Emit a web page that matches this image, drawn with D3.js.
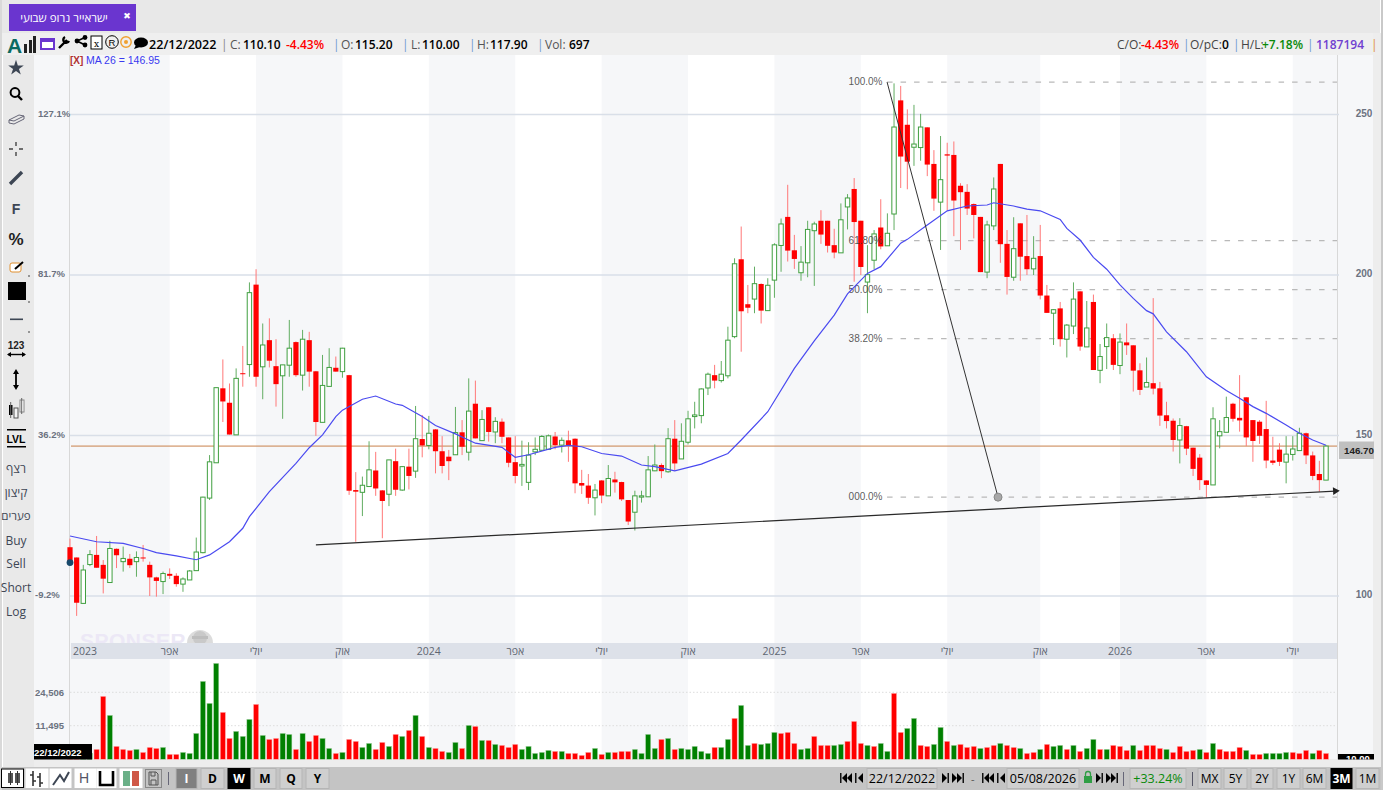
<!DOCTYPE html>
<html><head><meta charset="utf-8">
<style>html,body{margin:0;padding:0;background:#fff;overflow:hidden}svg{display:block}</style>
<script src="https://cdn.jsdelivr.net/npm/d3@7/dist/d3.min.js"></script>
</head><body><svg id="c" width="1389" height="790"></svg>
<script>
const barOpen=[115.2,112.0,97.7,109.8,112.8,109.7,104.2,114.7,110.7,111.6,110.7,112.0,109.7,105.8,104.5,106.9,106.3,103.7,105.0,107.9,113.5,130.5,141.5,164.7,160.2,150.2,169.4,172.1,197.0,171.4,179.7,171.6,168.6,171.9,179.1,168.8,179.7,170.0,154.1,165.3,171.1,169.9,168.8,133.0,132.3,134.1,139.1,132.9,131.7,142.0,133.0,140.3,138.9,148.9,146.9,151.9,145.1,143.4,144.0,151.0,144.8,159.9,148.4,158.8,151.1,154.3,149.4,141.7,140.5,135.4,144.9,145.4,145.7,149.7,147.0,148.5,149.0,135.2,134.4,130.6,136.0,131.2,136.3,135.5,129.9,126.1,130.8,130.9,139.0,140.8,138.7,149.0,142.7,147.9,155.9,156.2,164.8,168.8,167.1,168.6,180.8,204.9,190.9,192.5,197.2,188.9,198.4,209.2,218.1,207.7,200.7,203.8,213.8,216.9,216.9,209.3,206.9,221.2,226.8,216.9,197.8,204.6,214.8,209.1,219.0,254.4,246.8,239.8,239.7,246.0,234.6,222.7,237.6,237.4,227.8,225.9,222.1,218.1,200.9,215.3,234.6,209.7,199.3,216.1,205.9,201.9,205.9,193.6,188.1,189.6,180.0,184.1,194.9,177.6,191.6,170.3,177.7,180.3,171.8,179.0,178.1,170.3,165.1,166.3,164.7,156.3,154.6,148.6,152.9,146.2,143.1,136.0,134.6,149.9,151.0,159.9,155.5,161.9,154.8,154.3,152.0,142.2,145.6,141.7,144.1,145.3,150.7,143.8,138.0,136.1];
const barHigh=[117.9,112.0,109.7,114.3,118.7,111.2,117.2,114.8,115.4,113.1,113.9,115.9,110.7,106.0,107.6,108.6,107.1,105.8,108.1,118.2,130.9,143.9,164.9,173.7,166.2,170.9,177.9,197.7,201.8,184.9,186.5,180.0,172.0,186.0,179.3,182.9,182.3,170.1,175.1,177.2,174.6,177.3,168.9,138.6,137.2,148.2,144.9,133.0,142.4,145.9,140.5,145.9,159.2,156.4,156.1,152.0,149.8,145.5,158.9,154.8,167.8,167.1,157.9,158.8,155.7,155.3,149.4,149.8,148.4,147.9,149.4,150.1,150.3,151.1,149.4,151.5,149.1,139.3,138.0,134.9,136.1,140.8,138.7,135.6,129.9,132.8,132.8,143.6,147.2,141.3,152.3,154.8,153.8,157.7,160.5,164.7,169.6,172.0,173.2,183.9,205.2,215.1,196.9,202.6,197.4,199.0,209.9,217.6,228.1,212.5,209.0,216.9,216.6,220.2,216.9,214.4,222.3,225.2,230.2,216.9,209.3,214.0,223.6,219.2,259.7,258.9,251.6,253.0,250.2,246.0,238.9,243.3,241.2,241.6,228.6,228.3,222.3,218.1,216.9,230.4,234.6,214.0,218.0,216.1,218.7,212.1,215.6,196.9,189.3,191.6,184.7,197.7,195.0,191.9,193.9,178.5,184.9,181.6,181.8,184.9,178.1,172.5,174.3,192.8,166.7,160.5,155.3,155.4,153.0,146.2,144.2,136.1,158.8,154.8,162.1,160.2,168.8,161.9,154.8,154.8,160.8,149.6,147.6,149.8,149.8,152.4,150.9,145.0,142.1,147.0];
const barLow=[110.0,93.8,97.7,109.3,108.8,100.8,104.2,108.7,107.6,108.7,106.0,110.7,100.0,99.8,100.6,105.3,102.9,101.3,105.0,107.9,113.3,129.9,141.5,154.2,150.3,150.2,165.2,168.3,165.2,161.3,171.2,159.0,155.2,168.3,168.3,164.0,165.2,149.9,154.1,165.3,169.9,168.0,131.5,116.9,124.9,134.1,131.2,118.0,128.0,131.2,132.8,133.2,136.8,143.2,145.7,138.2,138.2,136.1,144.0,143.9,142.2,149.1,148.4,148.1,147.6,147.6,140.1,135.1,134.3,133.0,143.9,145.2,145.5,145.7,144.7,141.8,132.0,131.8,128.7,125.1,128.9,131.2,132.2,129.6,122.1,120.4,129.1,130.9,138.9,136.7,138.4,139.0,142.7,147.2,152.2,153.8,162.6,164.7,166.5,167.8,180.3,176.1,188.1,188.1,184.9,188.9,192.9,201.0,204.2,201.9,198.2,199.3,196.6,209.7,207.0,205.2,206.9,214.2,197.9,200.0,188.1,201.8,208.0,209.1,214.0,227.1,226.7,234.0,235.6,230.8,220.0,207.8,220.2,212.1,207.8,218.7,211.4,200.9,199.0,214.0,203.8,193.9,198.2,198.2,200.0,200.0,192.4,188.2,178.2,177.7,174.3,181.6,176.4,177.6,170.4,166.3,170.7,170.4,169.1,175.1,163.7,162.6,165.1,162.8,153.0,152.2,145.0,141.3,143.9,137.4,133.0,130.7,134.6,146.0,151.0,154.3,151.2,146.7,141.8,147.4,139.8,140.8,140.5,135.1,142.2,145.3,141.1,136.1,132.5,136.1];
const barClose=[110.1,97.9,108.1,112.9,108.8,105.4,114.8,112.7,111.7,109.6,112.0,111.9,105.8,104.7,107.0,106.3,103.7,105.3,107.8,113.7,130.8,141.8,164.9,160.6,150.3,167.8,169.3,194.5,168.3,178.2,173.3,166.0,172.0,177.2,168.8,180.0,169.9,154.2,165.6,171.2,169.9,177.2,132.8,132.5,134.5,139.3,133.5,129.6,142.4,133.1,140.3,137.4,149.0,146.9,150.7,145.1,140.5,142.0,150.9,146.5,157.6,149.1,155.0,151.1,154.4,149.6,141.5,137.4,141.0,143.9,145.7,149.7,149.9,147.0,148.5,147.0,135.1,134.4,130.6,133.0,131.3,136.6,135.4,130.1,123.2,131.2,131.2,139.3,140.8,138.9,149.0,141.3,148.2,155.2,156.4,164.5,169.1,167.1,169.1,179.7,203.5,188.7,189.8,197.3,188.9,196.8,209.4,215.9,207.6,205.0,204.0,214.2,215.9,212.6,209.1,207.0,217.2,224.0,216.5,202.5,200.1,212.8,208.9,213.0,246.1,236.9,235.3,240.8,246.1,234.4,223.8,229.7,237.2,223.2,225.8,220.7,218.7,200.9,215.6,226.8,209.6,199.4,208.2,205.7,201.8,205.2,193.6,188.2,189.2,180.0,184.4,192.5,177.7,183.5,170.4,174.6,180.5,172.0,179.1,178.1,170.2,164.2,166.5,164.6,156.2,154.5,148.6,153.1,145.9,139.6,136.1,134.6,155.2,151.2,155.6,155.2,154.7,149.4,148.3,149.9,142.2,141.5,141.8,144.2,145.8,150.7,143.8,137.4,136.1,146.7];
const volumes=[697,2400,2700,2100,3420,22950,15550,4450,3420,3080,3420,2390,4100,3760,4100,1710,1710,2390,2050,8890,28790,20220,35800,16720,7180,9580,7870,13990,19830,8210,6840,7180,8890,8550,3420,8890,6160,8210,7180,3760,2050,2390,6840,6160,4100,5470,3420,5810,4450,8550,7870,9920,15550,7870,4100,3760,2740,2390,5810,3760,11650,11290,6500,6500,5130,4790,4100,5130,3420,4450,2050,2390,3080,2740,2740,2050,2050,1370,2390,3760,1710,2390,2390,2740,2740,3420,2050,8550,3760,6840,7180,3420,3760,3420,4450,2740,2050,4100,4100,6840,14380,19440,4790,5470,5130,5470,9230,8890,9230,5470,3420,3760,7870,4790,4790,4790,5130,6160,13200,5470,4790,4450,5470,2740,24120,9230,10600,14380,4790,4450,5130,10950,6160,4790,5130,4100,4450,3760,4100,4790,5470,4790,4100,3760,2050,2390,3420,5130,4450,4790,3420,4790,2740,3760,6840,3420,3420,4790,4450,3080,4790,3080,4790,4790,3760,3420,2390,4450,2740,3080,3420,2390,5470,3420,2740,2740,4100,3080,1710,1710,2050,2050,2050,2390,2390,2050,3080,2050,3080,2050];
const volumeDirection="rrggrrgrrrgrrrgrrggggggrrgggrgrrggrgrrggrgrrggrrgrgrgrgrrggrgrgrgrrrgggggrgrrrrgrgrrrggggrgrggggg".concat("rggrggrgggrrrggrrrggrrrgrggrrggrrggrgrrrgrrgrrgrrgrggrgrggrgrrrgrrrrgrrrrgrgrrrrgrrgggg","rrrg").split("");
const maBars=[1,5,9,12,14,17,20,22,25,27,28,31,35,37,39,41,42,45,47,50,51,54,56,59,62,66,68,70,74,76,78,81,84,87,89,92,96,100,102,106,110,113,116,118,121,123,126,127,130,133,136,139,140,143,145,147,150,151,153,155,157,159,161,163,164,166,169,172,175,177,179,181,184,186,188,190];
const maValues=[118.7,116.9,116.4,114.8,113.5,112.5,111.3,112.8,116.9,121.1,124.7,132.5,141.3,146.2,150.2,155.9,157.9,161.3,162.3,159.8,159.4,155.9,153.1,150.5,147.6,146.3,143.2,144.0,146.3,146.9,146.5,144.4,143.6,140.8,140.3,139.0,141.1,144.4,148.6,157.4,170.9,179.5,187.5,194.1,200.5,202.6,209.9,211.1,215.6,220.0,221.5,221.8,222.5,221.5,220.5,220.0,217.3,214.5,210.9,205.5,201.8,196.9,192.7,188.9,187.9,182.3,176.1,168.3,164.0,161.6,159.0,156.9,153.3,150.7,148.6,146.95];
const quarterBars=[0,15,28,41,54,67,80,93,106,119,132,146,158,171,184];
const quarterLabels=["2023","אפר","יולי","אוק","2024","אפר","יולי","אוק","2025","אפר","יולי","אוק","2026","אפר","יולי"];
const priceTicks=[100,150,200,250];
const percentTicks=["-9.2%","36.2%","81.7%","127.1%"];
const volumeTicks=[11495,24506];
const fibLevels=[1,0.618,0.5,0.382,0];
const fibLabels=["100.0%","61.80%","50.00%","38.20%","000.0%"];
const fibHigh=260.1, fibLow=130.8, lastPrice=146.7;
const fibBars=[122.95,139.65];
const trendBars=[37,190.4], trendPrices=[115.9,132.7];
const headerStats=[["22/12/2022",149,"#000",1],["|",221,"#888",0],["C:",230,"#555",0],["110.10",243,"#000",1],["-4.43%",286,"#ff0000",1],["|",333,"#6a9ad0",0],["O:",341,"#555",0],["115.20",355,"#000",1],["|",402,"#6a9ad0",0],["L:",411,"#555",0],["110.00",422,"#000",1],["|",469,"#6a9ad0",0],["H:",477,"#555",0],["117.90",490,"#000",1],["|",537,"#6a9ad0",0],["Vol:",545,"#555",0],["697",569,"#000",1],
["C/O:",1117,"#444",0],["-4.43%",1141,"#ff0000",1],["|",1183,"#6a9ad0",0],["O/pC:",1190,"#444",0],["0",1222,"#000",1],["|",1233,"#6a9ad0",0],["H/L:",1241,"#444",0],["+7.18%",1262,"#0a8a0a",1],["|",1307,"#6a9ad0",0],["1187194",1316,"#7040d0",1],["|",1371,"#e09030",0]];
const sideLabels=[["רצף",469],["קיצון",493],["פערים",516],["Buy",541],["Sell",564],["Short",588],["Log",612]];
const timeButtons=[["I",176,197,"#808080","#fff"],["D",201,224,"#cfcfcf","#000"],["W",228,250,"#000","#fff"],["M",254,276,"#cfcfcf","#000"],["Q",280,302,"#cfcfcf","#000"],["Y",306,329,"#cfcfcf","#000"]];
const rangeButtons=[["MX",1198,1221,"#cfcfcf","#000"],["5Y",1224,1247,"#cfcfcf","#000"],["2Y",1251,1273,"#cfcfcf","#000"],["1Y",1277,1300,"#cfcfcf","#000"],["6M",1303,1326,"#cfcfcf","#000"],["3M",1331,1352,"#000","#fff"],["1M",1356,1379,"#cfcfcf","#000"]];

const svg=d3.select("#c");
const OS="'Open Sans',sans-serif", LS="'Liberation Sans',Arial,sans-serif";
const PL=70,PR=1337,PT=55,PB=643,BAND=659,VB=759.3;
const x=d3.scaleLinear().domain([0,189]).range([70,1326]);
const y=d3.scaleLinear().domain([100,250]).range([596,114.5]);
const yV=d3.scaleLinear().domain([0,volumeTicks[0],volumeTicks[1]]).range([VB,725.7,692.3]);
const bars=d3.range(barOpen.length).map(i=>({i,o:barOpen[i],h:barHigh[i],l:barLow[i],c:barClose[i],v:volumes[i],d:volumeDirection[i]}));
const R=(g,a,b,w,h,f,s)=>g.append("rect").attr("x",a).attr("y",b).attr("width",w).attr("height",h).attr("fill",f).attr("stroke",s||"none");
const T=(g,t,a,b,o={})=>g.append("text").text(t).attr("x",a).attr("y",b).attr("font-family",o.ff||OS).attr("font-size",o.fs||12).attr("font-weight",o.fw||400).attr("fill",o.f||"#000").attr("text-anchor",o.a||"start").attr("dominant-baseline","alphabetic");

// chrome
const ch=svg.append("g");
R(ch,0,0,1389,790,"#fff");
R(ch,2,0,1378,33,"#e8e8e8");
R(ch,9,4,127,27,"#6a35cf");
T(ch,"ישראייר נרופ שבועי",64,22,{f:"#fff",fs:11.5,a:"middle"}).attr("direction","rtl");
T(ch,"✖",127,19,{f:"#fff",fs:9,a:"middle",ff:"'DejaVu Sans'"});
R(ch,2,33,1378,22,"#efefef");
R(ch,3,55,31,712,"#e9e9e9");
R(ch,34,55,1339,704,"#f6f7f9");
R(ch,1373,33,8,734,"#ededed");
R(ch,1381,0,2,790,"#c9c9c9");
R(ch,34,759,1347,8,"#ededed");
R(ch,0,767,1381,23,"#c4c4c4");
R(ch,0,0,2,790,"#d9d9d9");

// quarter bands
const edges=quarterBars.slice(1).map(b=>x(b)).concat([PR]);
edges.forEach((e,k)=>{ if(k%2===0 && k<edges.length-1) R(ch,e,PT,edges[k+1]-e,VB-PT,"#fff"); });

// watermark
const wm=svg.append("g");
T(wm,"SPONSER",80,648,{ff:LS,fs:21,fw:700,f:"#ece8f6"}).attr("letter-spacing",0.5);
wm.append("circle").attr("cx",200).attr("cy",643).attr("r",13).attr("fill","#dcdcdc");
wm.append("circle").attr("cx",200).attr("cy",638).attr("r",7).attr("fill","#c9c9c9");
R(wm,192,636,16,3,"#bdbdbd");

// date band
R(svg,71,PB,PR-71,BAND-PB,"#dde1e9");
svg.append("g").selectAll("text").data(quarterBars).join("text")
 .attr("x",(b,i)=>i===0?73:x(b)).attr("y",655).attr("text-anchor",(b,i)=>i===0?"start":"middle")
 .attr("font-family",OS).attr("font-size",10.5).attr("fill","#5f6672").text((b,i)=>quarterLabels[i]);

// axis border
svg.append("line").attr("x1",69.5).attr("x2",69.5).attr("y1",PT).attr("y2",VB).attr("stroke","#d8d8d8");
svg.append("line").attr("x1",PR+.5).attr("x2",PR+.5).attr("y1",PT).attr("y2",VB).attr("stroke","#d8d8d8");

// price grid + axes
const grid=svg.append("g");
grid.selectAll("line").data(priceTicks).join("line").attr("x1",PL).attr("x2",PR+2).attr("y1",d=>y(d)).attr("y2",d=>y(d)).attr("stroke","#d9dfe8").attr("stroke-width",1.5);
svg.append("g").selectAll("text").data(priceTicks).join("text").attr("x",1364).attr("y",d=>y(d)+2).attr("text-anchor","middle").attr("font-family",LS).attr("font-weight",700).attr("font-size",10).attr("fill","#6b7280").text(d=>d);
svg.append("g").selectAll("text").data(priceTicks).join("text").attr("x",(d,i)=>i===0?35:38).attr("y",d=>y(d)+2).attr("text-anchor","start").attr("font-family",LS).attr("font-weight",700).attr("font-size",9.5).attr("fill","#6b7280").text((d,i)=>percentTicks[i]);

// volume grid
svg.append("g").selectAll("line").data(volumeTicks).join("line").attr("x1",PL).attr("x2",PR).attr("y1",d=>yV(d)).attr("y2",d=>yV(d)).attr("stroke","#ddd").attr("stroke-dasharray","1.5 2");
svg.append("g").selectAll("text").data(volumeTicks).join("text").attr("x",64).attr("y",d=>yV(d)+3.5).attr("text-anchor","end").attr("font-family",LS).attr("font-weight",700).attr("font-size",9.5).attr("fill","#6b7280").text(d3.format(","));

// last price line
svg.append("line").attr("x1",71).attr("x2",PR).attr("y1",y(lastPrice)).attr("y2",y(lastPrice)).attr("stroke","#c8804a").attr("stroke-width",1);

// fib lines
const fy=l=>y(fibLow+(fibHigh-fibLow)*l);
const fib=svg.append("g");
fib.selectAll("line").data(fibLevels).join("line").attr("x1",x(fibBars[0])).attr("x2",PR).attr("y1",fy).attr("y2",fy).attr("stroke","#b9b9b9").attr("stroke-width",1.4).attr("stroke-dasharray","5.5 8");
const fibText=bars.length&&fibLevels;

// candles
const wick=d=>d.c>=d.o?"#62ad62":"#ff7878";
const cg=svg.append("g");
cg.selectAll("line").data(bars).join("line").attr("x1",d=>x(d.i)).attr("x2",d=>x(d.i)).attr("y1",d=>y(d.h)).attr("y2",d=>y(d.l)).attr("stroke",wick).attr("stroke-width",1);
cg.selectAll("rect").data(bars).join("rect").attr("x",d=>x(d.i)-(d.c>=d.o?2.2:2.6)).attr("width",d=>d.c>=d.o?4.4:5.2)
 .attr("y",d=>y(Math.max(d.o,d.c))).attr("height",d=>Math.max(y(Math.min(d.o,d.c))-y(Math.max(d.o,d.c)),1))
 .attr("fill",d=>d.c>=d.o?"#fff":"#ff0000").attr("stroke",d=>d.c>=d.o?"#3f9f3f":"none").attr("stroke-width",1);

// fib labels above candles, as in the reference
svg.append("g").selectAll("text").data(fibText).join("text").attr("x",882.5).attr("y",d=>fy(d)+3).attr("text-anchor","end").attr("font-family",LS).attr("font-size",10).attr("fill","#3a3a3a").attr("fill-opacity",.85).text((d,i)=>fibLabels[i]);

// MA
svg.append("path").attr("d",d3.line().x((d,k)=>x(maBars[k]-1)).y(d=>y(d))(maValues)).attr("fill","none").attr("stroke","#4a4af0").attr("stroke-width",1.2);

// drawings
svg.append("line").attr("x1",x(fibBars[0])).attr("y1",y(fibHigh)).attr("x2",x(fibBars[1])).attr("y2",y(fibLow)).attr("stroke","#333").attr("stroke-width",1);
svg.append("circle").attr("cx",x(fibBars[1])).attr("cy",y(fibLow)).attr("r",4).attr("fill","#a8a8a8").attr("stroke","#888");
const tx=trendBars.map(x), ty=trendPrices.map(y);
svg.append("line").attr("x1",tx[0]).attr("y1",ty[0]).attr("x2",tx[1]).attr("y2",ty[1]).attr("stroke","#2a2a2a").attr("stroke-width",1.2);
svg.append("path").attr("d",d3.symbol(d3.symbolTriangle,26)()).attr("transform",`translate(${tx[1]},${ty[1]}) rotate(87)`).attr("fill","#222");
svg.append("circle").attr("cx",x(0)).attr("cy",y(barOpen[0]-4.8)).attr("r",3.4).attr("fill","#17496b");

// volume
svg.append("g").selectAll("rect").data(bars).join("rect").attr("x",d=>x(d.i)-2.6).attr("width",5.2).attr("y",d=>yV(d.v)).attr("height",d=>VB-yV(d.v)).attr("fill",d=>d.d==="g"?"#008000":"#ff0000").attr("stroke",d=>d.d==="g"?"#b8dcb8":"#ffc0c0").attr("stroke-width",.5);

// price tag & legend
R(svg,1339,441.5,35,17.5,"#c0c0c0");
T(svg,"146.70",1359,454,{a:"middle",fs:9.8,fw:700,ff:LS,f:"#222"});
T(svg,"[X]",70,64,{ff:LS,fs:10,fw:700,f:"#b03030"});
T(svg,"MA 26 = 146.95",86,64,{ff:LS,fs:10.5,f:"#3a3af0"});

// date flags
R(svg,34,744,58,15.5,"#000");
T(svg,"22/12/2022",34,756,{f:"#fff",fs:9.5,fw:700,ff:LS});
const cp=svg.append("clipPath").attr("id","cpr"); cp.append("rect").attr("x",1338).attr("y",754).attr("width",36).attr("height",5.5);
const fr=svg.append("g").attr("clip-path","url(#cpr)");
R(fr,1338,754,36,6,"#000");
T(fr,"10.00",1346,762,{f:"#fff",fs:9.5,fw:700,ff:LS});

// header stats
const hs=svg.append("g");
headerStats.forEach(([t,a,f,b])=>{T(hs,t,a,48.5,{fs:t.length===10?12.6:12,fw:b?600:400,f});});

// header icons
const ic=svg.append("g");
T(ic,"A",7,53,{ff:LS,fs:21,fw:700,f:"#0c6a60"});
[[24,44],[29,40],[33,36]].forEach(([a,t])=>R(ic,a,t,3,53-t,"#222"));
ic.append("rect").attr("x",41).attr("y",39).attr("width",13).attr("height",10).attr("fill","#fff").attr("stroke","#6a35cf").attr("stroke-width",2);
R(ic,41,39,13,3,"#6a35cf");
ic.append("path").attr("d","M59 48 L67 40 M65 37 a3 3 0 1 0 4 4").attr("stroke","#000").attr("stroke-width",2.4).attr("fill","none");
ic.append("path").attr("d","M77 41 L85 37.5 M77 41 L85 45").attr("stroke","#000").attr("stroke-width",1.6);
[[77,41],[85,37.5],[85,45]].forEach(([a,b])=>ic.append("circle").attr("cx",a).attr("cy",b).attr("r",2.4));
ic.append("rect").attr("x",91).attr("y",36).attr("width",11).attr("height",13).attr("fill","#fff").attr("stroke","#000");
T(ic,"x",96.5,47,{a:"middle",fs:9,ff:"'DejaVu Serif'"});
ic.append("circle").attr("cx",112).attr("cy",42).attr("r",6.3).attr("fill","none").attr("stroke","#000");
T(ic,"R",112,46,{a:"middle",fs:9.5,ff:LS});
ic.append("circle").attr("cx",126).attr("cy",42).attr("r",5.2).attr("fill","none").attr("stroke","#f0a030").attr("stroke-width",1.4);
ic.append("circle").attr("cx",126).attr("cy",42).attr("r",2).attr("fill","#f0a030");
ic.append("ellipse").attr("cx",141).attr("cy",42.5).attr("rx",7).attr("ry",5).attr("fill","#000");
ic.append("path").attr("d","M136 45 L134 49 L140 47Z");

// left tools
const lt=svg.append("g");
const cx=16;
lt.append("path").attr("d",d3.symbol(d3.symbolStar,75)()).attr("transform",`translate(${cx},68)`).attr("fill","#3d4654");
lt.append("circle").attr("cx",15).attr("cy",92.5).attr("r",4.4).attr("fill","none").attr("stroke","#000").attr("stroke-width",2);
lt.append("line").attr("x1",18).attr("y1",96).attr("x2",22).attr("y2",100).attr("stroke","#000").attr("stroke-width",2.4);
lt.append("path").attr("d","M9 120 L19 115 L24 116 L24 119 L14 124 L9 123Z M9 120 L14 121 L24 116").attr("fill","none").attr("stroke","#667");
lt.append("path").attr("d","M16 142 V146 M16 152 V156 M9 149 H13 M19 149 H23").attr("stroke","#444").attr("stroke-width",1.4);
lt.append("line").attr("x1",10).attr("y1",184).attr("x2",22).attr("y2",172).attr("stroke","#3d4654").attr("stroke-width",3.4);
T(lt,"F",16,214,{a:"middle",fs:14,fw:700,f:"#3d4654",ff:LS});
T(lt,"%",16,245,{a:"middle",fs:17,fw:700,f:"#222",ff:LS});
lt.append("rect").attr("x",10).attr("y",263).attr("width",11).attr("height",9).attr("rx",2).attr("fill","#fff").attr("stroke","#e09030");
lt.append("line").attr("x1",15).attr("y1",269).attr("x2",23).attr("y2",262).attr("stroke","#000").attr("stroke-width",2);
R(lt,8,282,18,18,"#000");
R(lt,10,318.5,13,1.6,"#3d4654");
T(lt,"123",16,349,{a:"middle",fs:10,fw:700,ff:LS,f:"#222"});
lt.append("path").attr("d","M8 354.5 H25").attr("stroke","#000").attr("stroke-width",1.4);
lt.append("path").attr("d","M7 354.5 L11 352 V357Z M26 354.5 L22 352 V357Z");
lt.append("path").attr("d","M16 371 V388").attr("stroke","#000").attr("stroke-width",1.8);
lt.append("path").attr("d","M16 369 L13 374 H19Z M16 390 L13 385 H19Z");
R(lt,9,405,3.5,10,"#000"); R(lt,14,408,4,10,"#f4f4f4","#555");
R(lt,20,400,4,12,"#fff","#888");
lt.append("path").attr("d","M10.7 402 V418 M21.7 398 V414").attr("stroke","#666");
R(lt,7,429,19,1.5,"#000"); R(lt,7,446,19,1.5,"#000");
T(lt,"LVL",16,443,{a:"middle",fs:10.5,fw:700,ff:LS});
sideLabels.forEach(([t,b])=>T(lt,t,16,b+4,{a:"middle",fs:t==="פערים"?11.5:12,f:"#3d4654"}));
lt.append("circle").attr("cx",29).attr("cy",276).attr("r",.7); lt.append("circle").attr("cx",29).attr("cy",302).attr("r",.7); lt.append("circle").attr("cx",29).attr("cy",332).attr("r",.7);

// bottom toolbar
const bt=svg.append("g");
function btn(a,b,w,h,f,s){return bt.append("rect").attr("x",a).attr("y",b).attr("width",w).attr("height",h).attr("fill",f).attr("stroke",s||"#b5b5b5");}
btn(1.5,769,22,18.5,"#fff","#000");
[[8,773,5,10],[15,773,5,10]].forEach(([a,b,w,h])=>{R(bt,a,b,w,h,"#555");});
bt.append("path").attr("d","M10.5 771 V785 M17.5 771 V785").attr("stroke","#333");
btn(26,769,22,18.5,"#fff","#fff");
bt.append("path").attr("d","M33 771 V786 M40 773 V787 M33 775 H30 M33 781 H36 M40 777 H37 M40 783 H43").attr("stroke","#333").attr("stroke-width",1.6).attr("fill","none");
btn(50,769,21,18.5,"#fff","#fff");
bt.append("path").attr("d","M53 785 L60 775 L64 781 L69 772").attr("stroke","#3d4654").attr("stroke-width",2).attr("fill","none");
btn(75,769,21,18.5,"#fff","#fff");
T(bt,"H",84,783,{a:"middle",fs:14,ff:LS,f:"#556"});
btn(97,769,19,18.5,"#fff","#fff");
bt.append("path").attr("d","M100 771 V785 H113 V771").attr("stroke","#000").attr("stroke-width",2.6).attr("fill","none");
btn(120,769,22,18.5,"#fff","#fff");
R(bt,123,771,7,15,"#6bb088");R(bt,132,771,7,15,"#cf5746");
btn(145.5,769.5,16,18,"#c4c4c4","#888");
bt.append("path").attr("d","M149 772 H156 L158 774 V785 H149Z M151 772 V776 H155 V772 M151 785 V780 H156 V785").attr("stroke","#555").attr("fill","none");
R(bt,168,772,1,13,"#667");
timeButtons.concat(rangeButtons).forEach(([t,a,b,f,c])=>{btn(a,768.5,b-a,20,f,f==="#000"?"#000":"#b5b5b5");T(bt,t,(a+b)/2,783,{a:"middle",fs:12,fw:f==="#cfcfcf"&&t.length===2?500:700,f:c});});
// date ranges
function arrows(a,rev){const g=bt.append("g").attr("transform",`translate(${a},778)`);
 if(!rev){R(g,-1,-5,1.5,10,"#111");g.append("path").attr("d","M6 -5 L1 0 L6 5Z");g.append("path").attr("d","M11 -5 L6 0 L11 5Z");R(g,14,-5,1.5,10,"#111");g.append("path").attr("d","M22 -5 L17 0 L22 5Z");}
 else{g.append("path").attr("d","M0 -5 L5 0 L0 5Z");R(g,5.5,-5,1.5,10,"#111");g.append("path").attr("d","M10 -5 L15 0 L10 5Z");g.append("path").attr("d","M15 -5 L20 0 L15 5Z");R(g,20.5,-5,1.5,10,"#111");}}
arrows(841,false);
btn(867,768.5,70,20,"#cfcfcf");T(bt,"22/12/2022",902,783,{a:"middle",fs:12.5,fw:500});
arrows(942,true);
T(bt,"-",971,783,{fs:11,f:"#555"});
arrows(983,false);
btn(1007,768.5,72,20,"#cfcfcf");T(bt,"05/08/2026",1043,783,{a:"middle",fs:12.5,fw:500});
R(bt,1084,776,8,7,"#2f9e44");bt.append("path").attr("d","M1085.5 776 V774 a2.5 2.5 0 0 1 5 0 V776").attr("stroke","#2f9e44").attr("stroke-width",1.3).attr("fill","none");
arrows(1096,true);
R(bt,1123,772,1,14,"#667");
btn(1130,768.5,56,20,"#cfcfcf");T(bt,"+33.24%",1158,783,{a:"middle",fs:12.5,fw:500,f:"#0a8a0a"});
R(bt,1192,772,1,14,"#556");
</script></body></html>
